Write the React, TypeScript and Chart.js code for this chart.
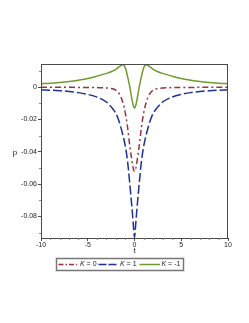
import React, { useEffect, useRef } from "react";
import { Chart, registerables } from "chart.js";
Chart.register(...registerables);

// t values (x axis)
const tValues = [-10, -9, -8, -7, -6, -5, -4, -3, -2.5, -2, -1.75, -1.5, -1.25, -1, -0.75, -0.5, -0.25, -0.125, 0, 0.125, 0.25, 0.5, 0.75, 1, 1.25, 1.5, 1.75, 2, 2.5, 3, 4, 5, 6, 7, 8, 9, 10];

// K = 0 (dash-dot, dark red)
const pK0 = [-0.0001, -0.0001, -0.0001, -0.0001, -0.0002, -0.0002, -0.0003, -0.0005, -0.0009, -0.0018, -0.0032, -0.0055, -0.0095, -0.0155, -0.0245, -0.0365, -0.0465, -0.0505, -0.0522, -0.0505, -0.0465, -0.0365, -0.0245, -0.0155, -0.0095, -0.0055, -0.0032, -0.0018, -0.0009, -0.0005, -0.0003, -0.0002, -0.0002, -0.0001, -0.0001, -0.0001, -0.0001];

// K = 1 (dashed, blue)
const pK1 = [-0.0017, -0.0019, -0.0022, -0.0027, -0.0034, -0.0045, -0.0062, -0.0092, -0.0122, -0.0162, -0.0195, -0.024, -0.0295, -0.036, -0.0455, -0.06, -0.076, -0.085, -0.093, -0.085, -0.076, -0.06, -0.0455, -0.036, -0.0295, -0.024, -0.0195, -0.0162, -0.0122, -0.0092, -0.0062, -0.0045, -0.0034, -0.0027, -0.0022, -0.0019, -0.0017];

// K = -1 (solid, green)
const pKm1 = [0.0021, 0.0024, 0.0029, 0.0035, 0.0043, 0.0053, 0.0068, 0.0085, 0.0095, 0.011, 0.0121, 0.0132, 0.0138, 0.0122, 0.0068, 0.0, -0.0083, -0.0115, -0.013, -0.0115, -0.0083, 0.0, 0.0068, 0.0122, 0.0138, 0.0132, 0.0121, 0.011, 0.0095, 0.0085, 0.0068, 0.0053, 0.0043, 0.0035, 0.0029, 0.0024, 0.0021];

const xTicks = [-10, -5, 0, 5, 10];
const yTicks = [0, -0.02, -0.04, -0.06, -0.08];
const xMinorTicks = [-9, -8, -7, -6, -4, -3, -2, -1, 1, 2, 3, 4, 6, 7, 8, 9];
const yMinorTicks = [0.01, -0.01, -0.03, -0.05, -0.07, -0.09];
const legendLabels = ["0", "1", "-1"];

const RED = "#9a3240";
const BLUE = "#1e2f98";
const GREEN = "#6f9b2c";
const AXIS = "#4a4a4a";
const TEXT = "#222";
const FONT_FAMILY = "'Liberation Sans', Arial, sans-serif";

const framePlugin = {
  id: "framePlugin",
  afterDraw(chart: any) {
    const ctx = chart.ctx;
    const a = chart.chartArea;
    const xs = chart.scales.x;
    const ys = chart.scales.y;
    ctx.save();
    // frame
    ctx.strokeStyle = AXIS;
    ctx.lineWidth = 1;
    ctx.strokeRect(Math.round(a.left) + 0.5, Math.round(a.top) + 0.5, Math.round(a.right - a.left) - 1, Math.round(a.bottom - a.top));
    // minor ticks
    ctx.strokeStyle = "#888";
    ctx.beginPath();
    xMinorTicks.forEach((v) => {
      const px = Math.round(xs.getPixelForValue(v)) + 0.5;
      ctx.moveTo(px, a.bottom);
      ctx.lineTo(px, a.bottom + 2);
    });
    yMinorTicks.forEach((v) => {
      const py = Math.round(ys.getPixelForValue(v)) + 0.5;
      ctx.moveTo(a.left, py);
      ctx.lineTo(a.left - 2, py);
    });
    ctx.stroke();

    // axis titles
    ctx.fillStyle = TEXT;
    ctx.font = `8px ${FONT_FAMILY}`;
    ctx.textAlign = "center";
    ctx.textBaseline = "middle";
    ctx.fillText("t", (a.left + a.right) / 2, 251);
    ctx.fillText("p", 15, (a.top + a.bottom) / 2 + 2);

    // legend
    const boxL = 56.5, boxT = 258.5, boxR = 183.5, boxB = 270.5;
    ctx.strokeStyle = "#777";
    ctx.lineWidth = 1.5;
    ctx.strokeRect(boxL, boxT, boxR - boxL, boxB - boxT);
    const cy = 264.5;
    const items = [
      { color: RED, dash: [5, 2, 1.5, 2], x0: 58.5, x1: 77, tx: 80 },
      { color: BLUE, dash: [8, 2], x0: 98.5, x1: 118.5, tx: 120 },
      { color: GREEN, dash: [], x0: 139.5, x1: 160, tx: 161.5 },
    ];
    items.forEach((it, i) => {
      ctx.strokeStyle = it.color;
      ctx.lineWidth = 1.5;
      ctx.setLineDash(it.dash);
      ctx.beginPath();
      ctx.moveTo(it.x0, cy);
      ctx.lineTo(it.x1, cy);
      ctx.stroke();
      ctx.setLineDash([]);
      ctx.fillStyle = TEXT;
      ctx.textAlign = "left";
      ctx.textBaseline = "middle";
      ctx.font = `italic 7px ${FONT_FAMILY}`;
      ctx.fillText("K", it.tx, cy);
      const w = ctx.measureText("K").width;
      ctx.font = `7px ${FONT_FAMILY}`;
      ctx.fillText(" = " + legendLabels[i], it.tx + w, cy);
    });
    ctx.restore();
  },
};

export default function App() {
  const ref = useRef<HTMLCanvasElement>(null);
  useEffect(() => {
    const mk = (ys: number[]) => tValues.map((t, i) => ({ x: t, y: ys[i] }));
    const common = {
      pointRadius: 0,
      borderWidth: 1.5,
      fill: false,
      cubicInterpolationMode: "monotone" as const,
    };
    const tickFont = { size: 7, family: FONT_FAMILY };
    const chart = new Chart(ref.current!, {
      type: "line",
      data: {
        datasets: [
          { label: "K = -1", data: mk(pKm1), borderColor: GREEN, ...common },
          { label: "K = 0", data: mk(pK0), borderColor: RED, borderDash: [6, 3, 2, 3], ...common },
          { label: "K = 1", data: mk(pK1), borderColor: BLUE, borderDash: [9, 3], ...common },
        ],
      },
      options: {
        responsive: false,
        animation: false,
        layout: { padding: { left: 0, top: 64, right: 21, bottom: 0 } },
        plugins: { legend: { display: false }, tooltip: { enabled: false } },
        scales: {
          x: {
            type: "linear",
            min: -10,
            max: 10,
            afterBuildTicks: (s: any) => {
              s.ticks = xTicks.map((v) => ({ value: v }));
            },
            afterFit: (s: any) => {
              s.height = 85;
            },
            grid: { display: true, drawOnChartArea: false, drawTicks: true, tickLength: 3, color: AXIS },
            border: { display: false },
            ticks: {
              font: tickFont,
              color: TEXT,
              padding: 0,
              maxRotation: 0,
              autoSkip: false,
              callback: (v: any) => String(v),
            },
          },
          y: {
            type: "linear",
            min: -0.0933,
            max: 0.0143,
            afterBuildTicks: (s: any) => {
              s.ticks = yTicks.map((v) => ({ value: v }));
            },
            afterFit: (s: any) => {
              s.width = 41;
            },
            grid: { display: true, drawOnChartArea: false, drawTicks: true, tickLength: 3, color: AXIS },
            border: { display: false },
            ticks: {
              font: tickFont,
              color: TEXT,
              padding: 1,
              autoSkip: false,
              callback: (v: any) => (v === 0 ? "0" : Number(v).toFixed(2)),
            },
          },
        },
      },
      plugins: [framePlugin],
    });
    return () => chart.destroy();
  }, []);

  return (
    <div style={{ position: "absolute", left: 0, top: 0, width: 249, height: 323, background: "#fff" }}>
      <canvas ref={ref} width={249} height={323} style={{ display: "block", width: 249, height: 323 }} />
    </div>
  );
}
